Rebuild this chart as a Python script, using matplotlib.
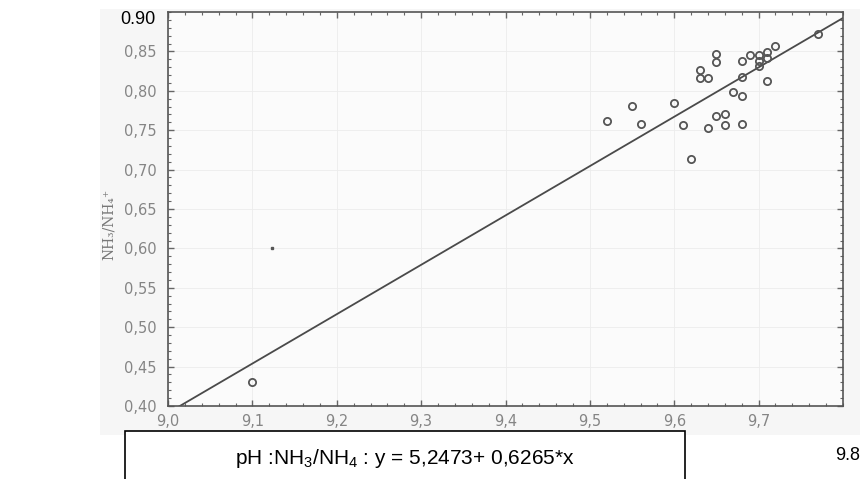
import matplotlib.pyplot as plt
from matplotlib.patches import Rectangle
from matplotlib.ticker import MultipleLocator
import numpy as np

# data
ph = [9.10, 9.52, 9.55, 9.56, 9.60, 9.61, 9.62, 9.63, 9.63, 9.64,
      9.64, 9.65, 9.65, 9.65, 9.66, 9.66, 9.67, 9.68, 9.68, 9.68,
      9.68, 9.69, 9.70, 9.70, 9.70, 9.71, 9.71, 9.71, 9.72, 9.77]
ratio = [0.430, 0.762, 0.781, 0.758, 0.785, 0.757, 0.714, 0.826, 0.816, 0.816,
         0.753, 0.847, 0.836, 0.768, 0.770, 0.757, 0.798, 0.838, 0.818, 0.793,
         0.758, 0.845, 0.845, 0.838, 0.832, 0.849, 0.842, 0.813, 0.857, 0.872]
stray_x, stray_y = [9.123], [0.601]

intercept, slope = -5.2473, 0.6265
x_ticks = [9.0, 9.1, 9.2, 9.3, 9.4, 9.5, 9.6, 9.7]
x_labels = ['9,0', '9,1', '9,2', '9,3', '9,4', '9,5', '9,6', '9,7']
y_ticks = [0.40, 0.45, 0.50, 0.55, 0.60, 0.65, 0.70, 0.75, 0.80, 0.85]
y_labels = ['0,40', '0,45', '0,50', '0,55', '0,60', '0,65', '0,70', '0,75', '0,80', '0,85']

plt.rcParams['mathtext.fontset'] = 'custom'
plt.rcParams['mathtext.rm'] = 'Liberation Sans'
plt.rcParams['mathtext.it'] = 'Liberation Sans'

W, H = 860, 479
fig = plt.figure(figsize=(8.6, 4.79), dpi=100)

# light scan background
fig.patches.append(Rectangle((100 / W, 1 - 435 / H), 760 / W, 426 / H,
                             transform=fig.transFigure, facecolor='#f6f6f6',
                             edgecolor='none', zorder=-5))

ax = fig.add_axes([168 / W, 1 - 406 / H, 675 / W, 394 / H])
ax.set_facecolor('#fbfbfb')

xl = np.array([9.0, 9.8])
ax.plot(xl, intercept + slope * xl, color='#4a4a4a', lw=1.3, zorder=2)
ax.plot(ph, ratio, 'o', ms=5.2, mfc='none', mec='#555555', mew=1.3, zorder=3)
ax.plot(stray_x, stray_y, 's', ms=1.8, color='#555555', zorder=3)

ax.set_xlim(9.0, 9.8)
ax.set_ylim(0.40, 0.90)
ax.set_xticks(x_ticks)
ax.set_xticklabels(x_labels)
ax.set_yticks(y_ticks)
ax.set_yticklabels(y_labels)
ax.xaxis.set_minor_locator(MultipleLocator(0.02))
ax.yaxis.set_minor_locator(MultipleLocator(0.01))
ax.tick_params(which='both', direction='in', top=True, right=True,
               colors='#666666', labelcolor='#858585', labelsize=10.5)
ax.tick_params(which='major', length=4, width=1)
ax.tick_params(which='minor', length=2, width=0.8)
ax.tick_params(axis='x', which='major', pad=6)
ax.tick_params(axis='y', which='major', pad=8)
ax.grid(True, color='#ececec', lw=0.6)
for s in ax.spines.values():
    s.set_color('#555555')
    s.set_linewidth(1.2)

ax.set_ylabel('NH\u2083/NH\u2084\u207a', color='#777777', fontsize=10,
              family=['DejaVu Serif', 'Liberation Serif'])
ax.yaxis.set_label_coords(-0.077, 0.46)

# overlaid labels on the scan
fig.text(138 / W, 1 - 20 / H, '0.90', fontsize=13, color='black',
         ha='center', va='center', family='Liberation Sans', zorder=6)
fig.text(848 / W, 1 - 455 / H, '9.8', fontsize=13, color='black',
         ha='center', va='center', family='Liberation Sans')

# equation box
fig.patches.append(Rectangle((125 / W, -0.05), 560 / W, 0.05 + (479 - 431) / H,
                             transform=fig.transFigure, facecolor='white',
                             edgecolor='black', lw=1.2, zorder=5))
fig.text(405 / W, 1 - 459 / H, 'pH :NH$_3$/NH$_4$ : y = 5,2473+ 0,6265*x',
         fontsize=15, color='black', ha='center', va='center',
         family='Liberation Sans', zorder=6)

fig.savefig('out.png', dpi=100)
